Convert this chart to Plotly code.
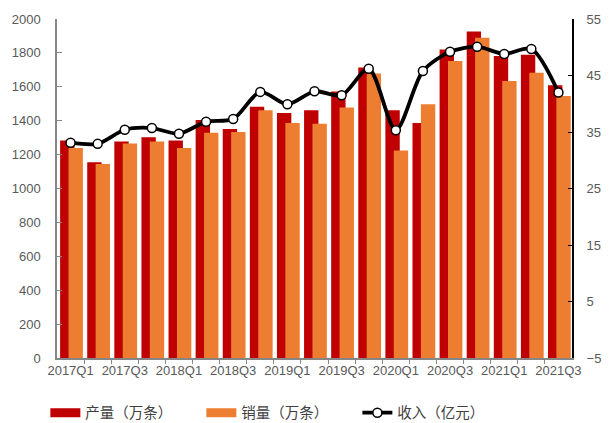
import plotly.graph_objects as go

# Quarterly tire output, sales (10k units) and revenue (100M yuan)
quarters = [
    "2017Q1", "2017Q2", "2017Q3", "2017Q4",
    "2018Q1", "2018Q2", "2018Q3", "2018Q4",
    "2019Q1", "2019Q2", "2019Q3", "2019Q4",
    "2020Q1", "2020Q2", "2020Q3", "2020Q4",
    "2021Q1", "2021Q2", "2021Q3",
]
output_vals = [1283, 1155, 1277, 1302, 1283, 1404, 1351, 1482, 1445, 1462,
               1572, 1714, 1462, 1386, 1820, 1926, 1781, 1789, 1609]
sales_vals = [1239, 1144, 1265, 1277, 1239, 1329, 1333, 1462, 1386, 1382,
              1478, 1679, 1224, 1497, 1752, 1890, 1634, 1683, 1546]
revenue_vals = [33.1, 32.9, 35.4, 35.7, 34.7, 36.8, 37.3, 42.1, 39.9, 42.2,
                41.5, 46.2, 35.3, 45.8, 49.2, 50.1, 48.8, 49.7, 42.0]

RED = "#C00000"
ORANGE = "#ED7D31"
TEXT = "#595959"
TICK_FONT = dict(family="Arial, Liberation Sans", size=13, color=TEXT)
CJK_FONT = dict(family="Noto Sans CJK SC", size=14.5, color="#404040")

idx = list(range(len(quarters)))

fig = go.Figure()

fig.add_trace(go.Bar(
    x=idx, y=output_vals, name="产量（万条）",
    marker=dict(color=RED, line=dict(width=0)),
    offset=-0.385, width=0.53, showlegend=False,
))
fig.add_trace(go.Bar(
    x=idx, y=sales_vals, name="销量（万条）",
    marker=dict(color=ORANGE, line=dict(width=0)),
    offset=-0.075, width=0.53, showlegend=False,
))
fig.add_trace(go.Scatter(
    x=idx, y=revenue_vals, name="收入（亿元）", yaxis="y2",
    mode="lines+markers",
    line=dict(color="black", width=3.8, shape="spline", smoothing=0.8),
    marker=dict(symbol="circle", size=9, color="white",
                line=dict(color="black", width=1.5)),
    showlegend=False,
))

# legend entries: wide swatches for the bars, line+marker for revenue
fig.add_trace(go.Scatter(x=[None], y=[None], mode="lines", name="产量（万条）",
                         line=dict(color=RED, width=9)))
fig.add_trace(go.Scatter(x=[None], y=[None], mode="lines", name="销量（万条）",
                         line=dict(color=ORANGE, width=9)))
fig.add_trace(go.Scatter(x=[None], y=[None], mode="lines+markers", name="收入（亿元）",
                         line=dict(color="black", width=3.8),
                         marker=dict(symbol="circle", size=9, color="white",
                                     line=dict(color="black", width=1.5))))

fig.update_layout(
    width=613, height=423,
    margin=dict(l=54, r=28, t=17, b=65),
    paper_bgcolor="white", plot_bgcolor="white",
    barmode="overlay",
    xaxis=dict(
        range=[-0.5, len(quarters) - 0.5],
        tickvals=idx[::2], ticktext=quarters[::2],
        ticks="", showgrid=False, zeroline=False,
        showline=True, linecolor="#868686", linewidth=1.5,
        tickfont=TICK_FONT,
        minor=dict(tickvals=[i + 0.5 for i in idx[:-1]], ticks="outside",
                   ticklen=4, tickcolor="#868686", tickwidth=1, showgrid=False),
    ),
    yaxis=dict(
        range=[0, 2000], dtick=200, showgrid=False, zeroline=False,
        showline=True, linecolor="#868686", linewidth=1.5,
        ticks="inside", ticklen=5, tickcolor="#868686",
        tickfont=TICK_FONT, ticklabelstandoff=12,
    ),
    yaxis2=dict(
        range=[-5, 55], tickvals=[-5, 5, 15, 25, 35, 45, 55],
        overlaying="y", side="right", showgrid=False, zeroline=False,
        showline=True, linecolor="black", linewidth=2,
        ticks="inside", ticklen=4, tickcolor="black",
        tickfont=TICK_FONT, ticklabelstandoff=10,
    ),
    legend=dict(
        orientation="h",
        xref="container", x=0.074, xanchor="left",
        yref="container", y=0.062, yanchor="top",
        font=CJK_FONT, entrywidth=111, entrywidthmode="pixels",
        bgcolor="rgba(0,0,0,0)", traceorder="normal",
    ),
    showlegend=True,
)

fig.write_html("out.html")
